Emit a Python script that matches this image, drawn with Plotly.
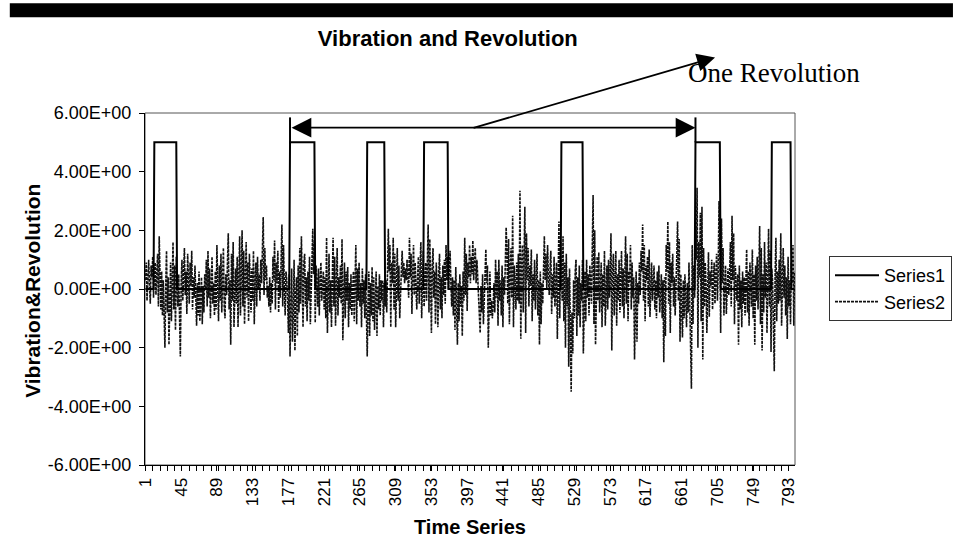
import plotly.graph_objects as go

# ---- data ----
# Series1: revolution pulse (0 / 5); pulse start and end categories
PULSE_START = [12, 179, 274, 344, 513, 678, 772]
PULSE_END = [39, 209, 295, 373, 539, 708, 795]
PULSE_LEVEL = 5

# Series2: vibration signal, 800 samples (20 per row)
SERIES2 = [
    0.3, 0.9, -0.4, 0.7, 1.0, 0.2, -0.5, 0.8, 0.4, 1.1, -0.3, 0.6, 0.9, -0.2, 0.5, 1.2, -0.6, 1.8, 0.4, -0.7,
    0.6, -0.9, 0.3, -1.2, -2.0, 0.1, 1.3, -0.8, 0.4, -1.9, -0.5, 0.9, -1.1, 0.2, 1.6, -0.7, 0.8, -1.4, 1.1, 0.0,
    -0.6, 0.5, -1.3, -2.3, 0.2, 1.0, -0.4, 0.7, 1.4, -0.2, 0.6, -0.85, 1.2, 0.3, -0.5, 0.9, 0.1, 1.3, -0.7, 0.4,
    -0.3, 0.8, -0.6, -1.25, 0.2, -0.9, 0.6, -1.1, -0.2, 0.4, -1.2, 0.1, -0.8, 0.5, 0.0, 1.0, -0.6, 1.3, -0.3, 0.7,
    -1.0, 0.4, 1.1, -0.5, 0.2, -0.9, 0.6, -0.7, 1.5, 0.1, -1.1, 0.8, -0.4, 1.2, -0.8, 0.3, 1.4, -0.6, -1.0, 0.5,
    -0.2, 0.9, 1.9, -0.7, 0.3, -1.9, 1.2, -0.4, 1.6, -1.3, 0.2, 0.7, -0.5, 1.1, -1.3, 0.4, 1.8, -0.9, 0.6, 2.0,
    -0.6, 1.3, -1.2, 0.5, 1.6, -0.3, 0.9, -1.1, 1.2, 0.2, -0.8, 0.7, -0.4, 1.3, -1.2, 0.3, 0.9, -0.6, 1.1, 0.0,
    0.5, -0.4, 1.0, 0.2, 1.5, 2.45, -0.2, 1.4, 0.3, 0.8, -0.3, 0.1, -0.6, 0.4, -0.8, 0.2, -0.5, 1.1, 0.3, 1.65,
    -0.7, 0.9, 0.2, 1.3, -0.8, 0.6, -0.3, 1.0, 2.2, -0.6, 1.5, 0.1, -0.9, 0.6, 0.3, -0.4, -1.5, 0.5, -2.3, -0.6,
    0.7, -1.8, -0.9, 1.0, -2.1, -0.3, 0.4, -1.6, 0.8, -0.8, 1.4, -0.5, 1.8, 0.2, -1.3, 0.9, 1.2, -0.6, 0.4, -1.1,
    0.6, -0.4, 1.1, -1.2, 0.3, 0.9, 2.05, 0.5, 1.6, -1.15, 0.8, 0.2, -0.6, 0.7, -0.9, 0.3, 0.9, -0.4, 0.1, 0.6,
    -0.7, 0.4, -1.0, 1.75, -1.5, 0.6, 1.2, -0.8, 0.3, -1.3, 0.5, 1.75, -0.6, 1.1, -1.25, 0.2, 1.4, -0.9, 0.4, -0.3,
    0.8, -0.5, 1.7, -1.75, 0.3, 0.9, -1.0, 0.6, -0.4, 0.75, -1.3, 0.2, -0.7, 0.5, -0.9, 0.1, 0.6, -1.1, 0.3, 1.5,
    -1.2, 0.7, -0.4, 0.9, -0.6, 0.2, -1.3, 0.7, -0.5, 0.3, -1.0, 0.5, -0.8, -2.3, -0.4, 0.6, -1.6, 0.2, -0.9, 0.75,
    -1.1, 0.4, -1.4, -0.2, 0.6, -1.6, 0.1, -0.7, 0.5, -0.9, 0.3, -0.4, 0.3, -1.3, 0.2, -0.6, 0.3, -0.8, 0.4, 2.05,
    0.6, 1.5, -1.3, 0.9, 0.2, 1.75, -0.7, 1.2, -1.3, 0.5, 1.4, -0.4, 0.8, -1.0, 0.3, 0.6, 1.3, 0.4, 0.9, 0.2,
    0.7, 0.3, 1.0, 0.5, -0.3, 1.75, 0.4, 1.2, -0.85, 0.6, 1.5, -0.2, 0.9, 0.1, -0.7, 0.4, 1.1, -0.5, 0.3, 1.6,
    -1.0, 0.7, 1.3, -0.6, 0.2, 0.9, -0.4, 1.2, 2.2, -0.8, 1.7, 0.3, -1.5, 0.8, 1.4, -0.3, 0.6, -1.2, 0.9, 0.2,
    -1.3, 0.5, 1.2, -0.7, 0.4, -1.0, 0.8, -0.2, 1.0, -0.5, 1.5, 0.3, 1.1, 0.0, 0.7, 1.3, 0.2, -0.6, 0.4, -0.9,
    0.3, -1.4, 0.75, -0.8, -1.9, 0.2, -1.1, 0.5, -0.6, 0.1, -1.6, 0.6, -0.4, 1.75, -0.2, 1.2, -0.75, 0.9, 0.4, 1.5,
    0.2, 1.1, 0.5, 1.65, 0.3, 0.9, 1.4, 0.2, 1.0, 0.4, -0.3, -1.0, -1.5, 0.1, -0.8, 0.5, -1.2, -0.4, 0.5, 1.35,
    0.2, 0.8, -2.0, 0.3, 0.6, -0.9, -0.4, -1.0, -0.6, 0.2, -0.8, 1.0, -0.3, 0.6, -1.25, 1.0, -0.4, 0.3, -0.9, 0.8,
    -1.3, 0.4, -0.2, 0.9, 2.1, 1.2, -0.5, 1.7, -1.2, 0.6, 1.4, -0.3, 2.5, -1.3, 0.8, 0.2, -0.7, 0.9, -0.4, 1.2,
    -0.5, 3.35, -1.7, 0.6, 1.5, -0.8, 0.9, 2.8, -1.5, 1.9, 0.3, 1.4, -0.6, 0.8, 0.1, 1.35, -1.1, 0.5, -0.4, 1.0,
    -0.7, 0.6, 1.2, -0.9, 0.3, -1.9, 0.6, -1.2, 0.2, -0.5, 0.8, 1.8, 0.3, 1.2, 0.0, 1.5, 0.4, -0.2, 0.7, 1.3,
    -0.85, 0.5, -0.3, 1.1, -0.6, 0.4, 0.9, -1.7, 0.2, 2.3, -1.0, 1.6, 0.5, -0.4, 1.8, -1.1, 0.9, -2.0, 1.2, -0.6,
    0.4, -2.65, 0.7, -1.4, -3.5, -0.8, -2.2, 0.3, -1.0, 0.6, 1.0, -1.6, 0.4, -0.9, 0.8, -1.3, 0.2, -0.4, 1.0, -2.2,
    -0.7, 0.6, -1.1, 1.0, -0.3, 0.5, -0.9, 0.8, 0.1, -0.5, 1.4, 3.2, -1.2, 2.0, -1.9, 0.6, 1.1, -0.4, 1.25, -0.8,
    0.3, 0.9, -1.3, 0.5, -0.6, 1.3, -1.25, 0.2, 0.8, -0.7, 1.0, -0.3, 0.4, 1.9, -2.1, 0.6, 1.2, -0.9, 0.3, 1.3,
    -1.25, 0.5, -0.4, 1.0, -0.8, 0.2, 1.3, -0.6, 0.7, -1.0, 0.1, 1.8, -0.5, 1.2, -1.1, 0.6, 0.2, 1.5, -0.7, 0.9,
    -0.3, 0.4, -2.4, -0.9, 0.6, -1.8, 0.2, -0.5, 0.9, -0.2, 1.3, 0.6, 2.2, -0.4, 1.5, -1.1, 0.8, 0.3, 1.1, -0.6,
    1.35, -0.95, 0.5, 0.9, -0.4, 0.2, 0.8, -0.7, 0.3, -1.0, 0.6, -0.3, 0.8, -0.8, 0.1, 0.5, -1.0, 0.3, -2.5, 0.4,
    -1.6, 1.5, 0.6, 2.3, -0.5, 1.6, -1.5, 0.9, 0.2, 1.2, -0.6, 0.4, -0.9, 0.7, 1.1, 2.3, -0.4, 1.7, -1.8, 0.5,
    -0.7, -1.65, 0.3, -1.0, 0.5, -0.6, -1.3, 0.2, -0.8, 0.9, -0.4, -2.2, -3.4, 1.5, -1.2, 0.8, -0.3, 2.1, 1.0, 3.45,
    -2.0, 1.6, 0.4, 2.6, -1.1, 2.8, -2.4, 1.4, -0.6, 0.9, 0.2, -1.5, 0.7, 1.25, -0.95, 0.6, 0.1, 1.0, -0.7, 0.4,
    0.9, -0.5, 0.3, 1.2, -0.4, 0.6, 3.0, 1.8, -1.5, 2.4, 0.2, 1.4, -0.9, 0.5, 0.8, -0.85, 0.3, 0.7, -0.2, 0.4,
    1.6, -0.6, 2.5, 0.3, 1.9, -1.2, 0.8, 0.1, -0.4, 0.5, -1.9, 0.8, -0.7, 0.3, -1.3, 0.6, -0.5, 0.4, -0.9, 0.2,
    1.35, -0.8, 0.6, -1.25, 0.9, 0.2, -0.6, 1.35, -1.0, 0.5, -1.9, 0.8, -0.4, 1.1, -0.7, 0.6, 2.15, -1.2, 1.4, -2.1,
    0.5, -0.8, 1.6, -0.3, 0.9, -1.5, 0.4, 2.05, -0.6, 1.3, -2.15, 0.7, 0.2, -0.9, -2.8, 0.4, 1.75, -1.1, 0.6, -0.5,
    1.0, -0.4, 1.9, -1.25, 0.7, 1.4, -0.3, 0.8, -0.9, 0.4, -1.7, 1.1, -0.6, 0.3, -1.2, 0.9, 0.2, 1.5, -1.25, 0.6,
]

CATEGORIES = list(range(1, len(SERIES2) + 1))
SERIES1 = [PULSE_LEVEL if any(s <= c <= e for s, e in zip(PULSE_START, PULSE_END)) else 0
           for c in CATEGORIES]

X_TICKS = list(range(1, 801, 44))
Y_TICKS = [-6, -4, -2, 0, 2, 4, 6]
Y_TICK_TEXT = ["-6.00E+00", "-4.00E+00", "-2.00E+00", "0.00E+00", "2.00E+00", "4.00E+00", "6.00E+00"]

TITLE = "Vibration and Revolution"
X_TITLE = "Time Series"
Y_TITLE = "Vibration&Revolution"
NOTE = "One Revolution"

FONT = "Liberation Sans, Arial, sans-serif"

fig = go.Figure()
fig.add_trace(go.Scatter(
    x=CATEGORIES, y=SERIES2, name="Series2", mode="lines", legendrank=2,
    line=dict(color="#111111", width=1.6, dash="3px,1px"),
))
fig.add_trace(go.Scatter(
    x=CATEGORIES, y=SERIES1, name="Series1", mode="lines", legendrank=1,
    line=dict(color="#000000", width=2),
))

# double-headed "one revolution" arrow between two pulse starts
rev_a, rev_b = PULSE_START[1], PULSE_START[5]
arrow_y = 5.5
fig.add_annotation(
    x=rev_b, y=arrow_y, ax=rev_a, ay=arrow_y, xref="x", yref="y", axref="x", ayref="y",
    showarrow=True, arrowhead=2, arrowside="end+start", arrowsize=2.2, arrowwidth=1.8,
    arrowcolor="#000", text="",
)
for xv in (rev_a, rev_b):
    fig.add_shape(type="line", xref="x", yref="y", x0=xv, x1=xv, y0=PULSE_LEVEL, y1=5.85,
                  line=dict(color="#000", width=2))

# pointer to the label
fig.add_annotation(
    x=0.877, y=1.158, xref="paper", yref="paper", ax=-243, ay=71,
    showarrow=True, arrowhead=2, arrowsize=2.0, arrowwidth=1.8, arrowcolor="#000", text="",
)
fig.add_annotation(
    x=0.832, y=1.114, xref="paper", yref="paper", xanchor="left", yanchor="middle",
    text=NOTE, showarrow=False,
    font=dict(family="Liberation Serif, Times New Roman, serif", size=27, color="#000"),
)

# axis titles
fig.add_annotation(
    x=-0.195, y=0.494, xref="paper", yref="paper", text=Y_TITLE, textangle=-90,
    showarrow=False, font=dict(family=FONT, size=21, color="#000", weight="bold"),
)
fig.add_annotation(
    x=0.5, y=-0.176, xref="paper", yref="paper", text=X_TITLE, yanchor="middle",
    showarrow=False, font=dict(family=FONT, size=20, color="#000", weight="bold"),
)

# black header rule
fig.add_shape(type="rect", xref="paper", yref="paper", x0=-0.208, x1=1.243, y0=1.272, y1=1.312,
              line=dict(width=0), fillcolor="#000")
# plot-area frame
fig.add_shape(type="rect", xref="paper", yref="paper", x0=0, x1=1, y0=0, y1=1,
              line=dict(color="#555", width=1), layer="below")

fig.update_layout(
    width=961, height=542,
    margin=dict(l=145, r=166, t=113, b=77, autoexpand=False),
    paper_bgcolor="#fff", plot_bgcolor="#fff",
    font=dict(family=FONT, size=17, color="#000"),
    title=dict(text=TITLE, x=0.466, xanchor="center", y=0.93, yanchor="middle",
               font=dict(family=FONT, size=22, color="#000", weight="bold")),
    showlegend=True,
    legend=dict(xref="container", yref="container", x=829 / 961, xanchor="left",
                y=1 - 256 / 542, yanchor="top",
                bordercolor="#333", borderwidth=1, bgcolor="#fff",
                font=dict(family=FONT, size=18, color="#000"),
                traceorder="normal", itemwidth=44),
    xaxis=dict(range=[0.5, 800.5], tickmode="array", tickvals=X_TICKS,
               ticktext=[str(v) for v in X_TICKS], tickangle=-90,
               showgrid=False, zeroline=False, showline=True, linecolor="#000", linewidth=1,
               ticks="outside", ticklen=5, tickcolor="#000",
               minor=dict(tick0=1, dtick=9, ticks="outside", ticklen=5, tickcolor="#000", showgrid=False),
               tickfont=dict(family=FONT, size=17, color="#000")),
    yaxis=dict(range=[-6, 6], tickmode="array", tickvals=Y_TICKS, ticktext=Y_TICK_TEXT,
               showgrid=False, zeroline=False, showline=True, linecolor="#000", linewidth=1,
               ticks="outside", ticklen=5, tickcolor="#000", ticklabelstandoff=4,
               tickfont=dict(family=FONT, size=18, color="#000")),
)

fig.write_html("out.html", config={"displayModeBar": False},
               post_script="document.body.style.margin='0';")
